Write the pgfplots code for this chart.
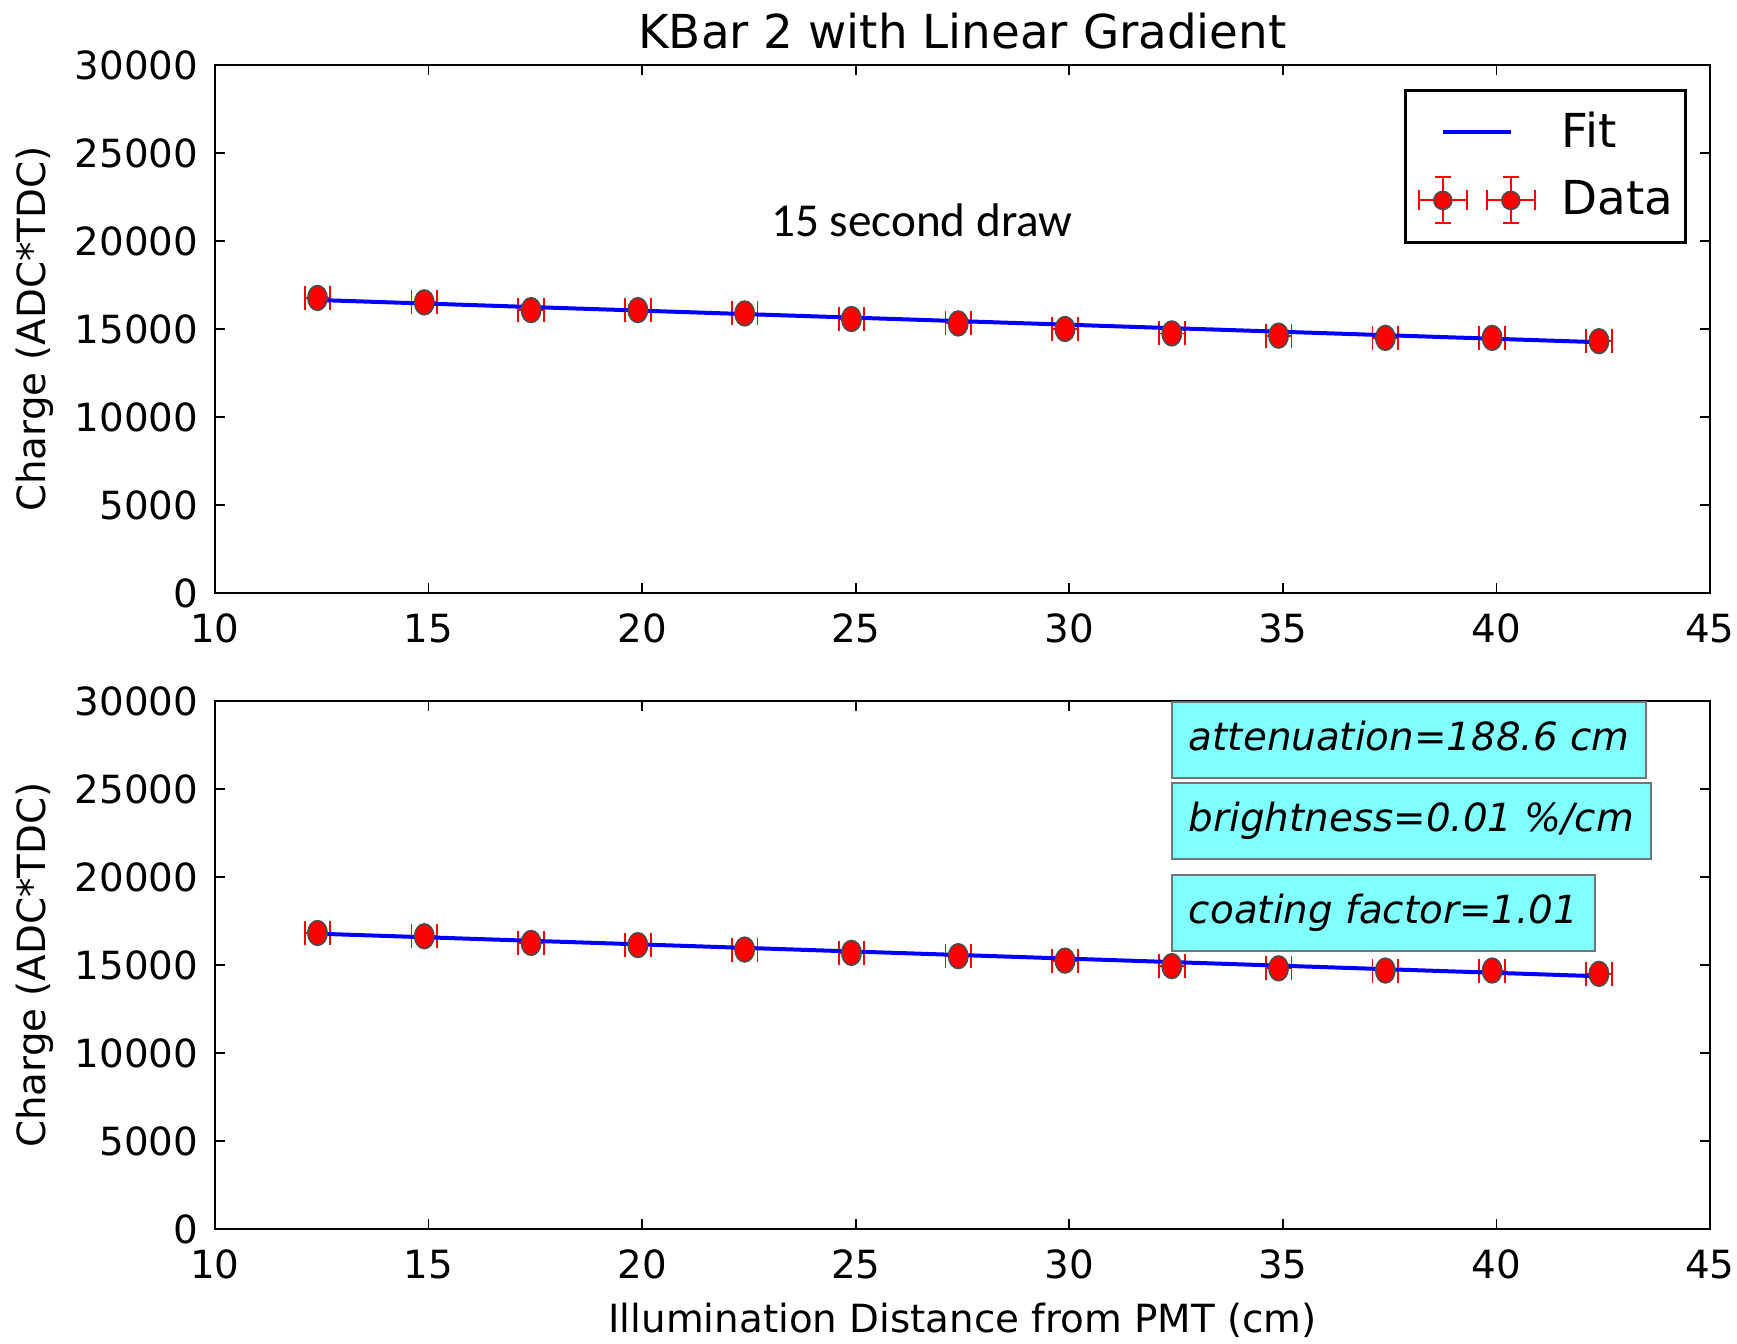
\documentclass[border=0pt]{standalone}
\usepackage{fontspec}
\setmainfont{DejaVu Sans}
\newfontfamily\cali{Carlito}
\usepackage{pgfplots}
\usepackage{pgfplotstable}
\pgfplotsset{compat=1.18}
\definecolor{boxcyan}{RGB}{128,255,255}

\pgfplotstableread{
x y ex
12.4 16766 0.3
14.9 16514 0.3
17.4 16073 0.3
19.9 16073 0.3
22.4 15884 0.3
24.9 15568 0.3
27.4 15317 0.3
29.9 15001 0.3
32.4 14749 0.3
34.9 14623 0.3
37.4 14497 0.3
39.9 14497 0.3
42.4 14308 0.3
}\topdata

\pgfplotstableread{
x y ex
12.4 16820 0.3
14.9 16632 0.3
17.4 16255 0.3
19.9 16130 0.3
22.4 15878 0.3
24.9 15690 0.3
27.4 15502 0.3
29.9 15250 0.3
32.4 14937 0.3
34.9 14811 0.3
37.4 14686 0.3
39.9 14686 0.3
42.4 14497 0.3
}\botdata

\pgfplotstableread{
x y
12.4 16650
42.4 14250
}\topfit

\pgfplotstableread{
x y
12.4 16780
42.4 14360
}\botfit

\pgfplotsset{
  kbar/.style={
    scale only axis, width=373.75pt, height=132pt,
    xmin=10, xmax=45, ymin=0, ymax=30000,
    xtick={10,15,...,45}, ytick={0,5000,...,30000},
    scaled ticks=false,
    /pgf/number format/1000 sep={},
    /pgf/number format/assume math mode=true,
    tick align=inside, major tick length=2.5pt,
    axis line style={line width=0.6pt},
    tick style={line width=0.45pt, black},
    tick label style={font=\fontsize{9.7}{11.6}\selectfont},
    xticklabel style={anchor=base, yshift=-12.3pt},
    yticklabel style={anchor=east, inner sep=0pt, xshift=-4pt},
    ylabel={Charge (ADC*TDC)},
    ylabel style={at={(axis description cs:-0.11305,0.5)}, anchor=base, font=\fontsize{9.7}{11.6}\selectfont},
  },
  datastyle/.style={only marks, mark=*, mark size=3.1pt,
    mark options={fill=red, draw=black!70, line width=0.4pt, xscale=0.78},
    /pgfplots/error bars/x dir=both, /pgfplots/error bars/x explicit,
    /pgfplots/error bars/error bar style={red, line width=0.45pt},
    /pgfplots/error bars/error mark options={red, mark size=3pt, line width=0.45pt, rotate=90}},
  fitstyle/.style={blue, line width=1pt, no marks},
}

\begin{document}
\begin{tikzpicture}
\useasboundingbox (-53.75pt,-187.5pt) rectangle (380.5pt,148.25pt);

\begin{axis}[kbar, at={(0,0)}, anchor=south west,
  title={KBar 2 with Linear Gradient},
  title style={at={(axis description cs:0.5,1)}, anchor=base, yshift=-1.85pt, font=\fontsize{11.7}{14}\selectfont},
  legend cell align=left,
  legend style={at={(axis description cs:1,1)}, anchor=north east, xshift=-5.75pt, yshift=-6pt,
    draw=black, line width=0.7pt, inner xsep=3pt, inner ysep=4.5pt,
    row sep=5pt, column sep=6.5pt, font=\fontsize{11.7}{14}\selectfont,
    nodes={inner sep=0pt}},
]
\addlegendimage{legend image code/.code={
  \path[draw=none] (-6pt,-6pt) rectangle (23pt,6pt);
  \draw[blue, line width=1pt] (0pt,0pt) -- (17pt,0pt);
}}
\addlegendentry{Fit}
\addlegendimage{legend image code/.code={
  \path[draw=none] (-6pt,-6pt) rectangle (23pt,6pt);
  \draw[red, line width=0.5pt] (-6pt,0pt)--(6pt,0pt) (-6pt,-2.5pt)--(-6pt,2.5pt) (6pt,-2.5pt)--(6pt,2.5pt) (0pt,-5.75pt)--(0pt,5.75pt) (-2pt,-5.75pt)--(2pt,-5.75pt) (-2pt,5.75pt)--(2pt,5.75pt);
  \draw[red, line width=0.5pt] (11pt,0pt)--(23pt,0pt) (11pt,-2.5pt)--(11pt,2.5pt) (23pt,-2.5pt)--(23pt,2.5pt) (17pt,-5.75pt)--(17pt,5.75pt) (15pt,-5.75pt)--(19pt,-5.75pt) (15pt,5.75pt)--(19pt,5.75pt);
  \filldraw[fill=red, draw=black!70, line width=0.4pt] (0pt,0pt) circle (2.25pt) (17pt,0pt) circle (2.25pt);
}}
\addlegendentry{Data}
\addplot[forget plot, datastyle] table[x=x, y=y, x error=ex] {\topdata};
\addplot[forget plot, fitstyle] table[x=x, y=y] {\topfit};
\node[font=\cali\fontsize{11.8}{14}\selectfont, anchor=base] at (axis cs:26.55,20284) {15 second draw};
\end{axis}

\begin{axis}[kbar, at={(0,-27pt)}, anchor=north west,
  xlabel={Illumination Distance from PMT (cm)},
  xlabel style={at={(axis description cs:0.5,-0.1966)}, anchor=base, font=\fontsize{9.7}{11.6}\selectfont},
]
\addplot[datastyle] table[x=x, y=y, x error=ex] {\botdata};
\addplot[fitstyle] table[x=x, y=y] {\botfit};
\begin{scope}[every node/.style={draw=black!55, fill=boxcyan, line width=0.5pt, inner xsep=4.25pt, inner ysep=4.5pt,
    text height=0.76em, text depth=0.24em, font=\itshape\fontsize{9.7}{11.6}\selectfont, anchor=west}]
\node at (axis cs:32.38,27760) {attenuation=188.6 cm};
\node at (axis cs:32.38,23195) {brightness=0.01 \%/cm};
\node at (axis cs:32.38,17977) {coating factor=1.01};
\end{scope}
\end{axis}
\end{tikzpicture}
\end{document}
